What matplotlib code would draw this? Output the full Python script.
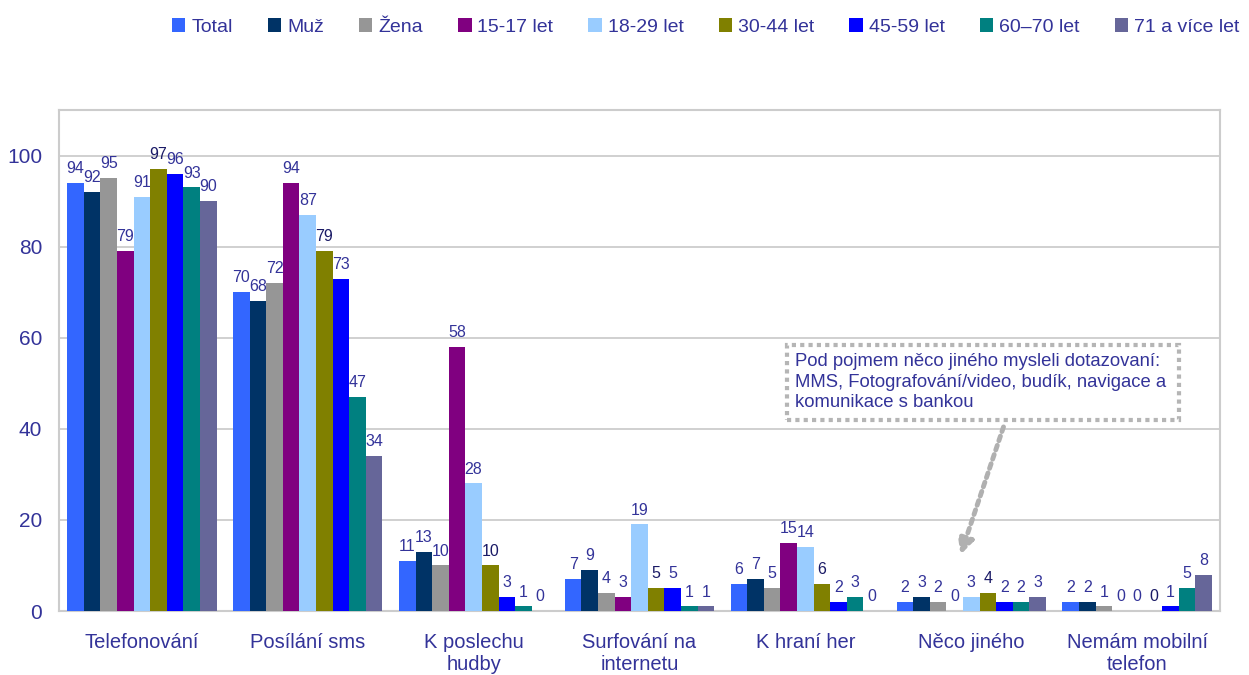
import matplotlib

matplotlib.use("Agg")
import matplotlib.pyplot as plt
import numpy as np

categories = [
    "Telefonování",
    "Posílání sms",
    "K poslechu\nhudby",
    "Surfování na\ninternetu",
    "K hraní her",
    "Něco jiného",
    "Nemám mobilní\ntelefon",
]
series = ["Total", "Muž", "Žena", "15-17 let", "18-29 let", "30-44 let",
          "45-59 let", "60–70 let", "71 a více let"]
values = [
    [94, 70, 11, 7, 6, 2, 2],     # Total
    [92, 68, 13, 9, 7, 3, 2],     # Muž
    [95, 72, 10, 4, 5, 2, 1],     # Žena
    [79, 94, 58, 3, 15, 0, 0],    # 15-17 let
    [91, 87, 28, 19, 14, 3, 0],   # 18-29 let
    [97, 79, 10, 5, 6, 4, 0],     # 30-44 let
    [96, 73, 3, 5, 2, 2, 1],      # 45-59 let
    [93, 47, 1, 1, 3, 2, 5],      # 60–70 let
    [90, 34, 0, 1, 0, 3, 8],      # 71 a více let
]
colors = ["#3366ff", "#003366", "#969696", "#800080", "#99ccff",
          "#808000", "#0000ff", "#008080", "#666699"]
note = ("Pod pojmem něco jiného mysleli dotazovaní:  \n"
        "MMS, Fotografování/video, budík, navigace a\n"
        "komunikace s bankou")

TXT = "#333399"
plt.rcParams["font.family"] = ["Liberation Sans", "DejaVu Sans"]

fig = plt.figure(figsize=(12.49, 6.75), dpi=100)
ax = fig.add_axes([0.0472, 0.0948, 0.9296, 0.7422])

x = np.arange(len(categories))
w = 0.1
for i, (name, vals, c) in enumerate(zip(series, values, colors)):
    pos = x - 0.4 + i * w
    ax.bar(pos, vals, width=w, color=c, label=name, zorder=3)
    bold = name == "30-44 let"
    for px, v in zip(pos, vals):
        ax.annotate(f"{v:.0f}", (px, v), xytext=(0, 5), textcoords="offset points",
                    ha="center", va="bottom", fontsize=11.5,
                    color="#1a1a66" if bold else TXT)

ax.set_xlim(-0.5, len(categories) - 0.5)
ax.set_ylim(0, 110)
ax.set_yticks(range(0, 101, 20))
ax.set_xticks(x)
ax.set_xticklabels(categories, fontsize=14.5, color=TXT, linespacing=1.2, va="top")
ax.tick_params(axis="y", labelsize=15, labelcolor=TXT, length=0, pad=12)
ax.tick_params(axis="x", length=0, pad=16)
ax.grid(True, axis="y", color="#c8c8c8", lw=1.2, zorder=0)
for s in ax.spines.values():
    s.set_color("#cccccc")
    s.set_linewidth(1.5)

ax.text(3.94, 50.2, note, fontsize=13.3, color=TXT, va="center", ha="left",
        linespacing=1.27,
        bbox=dict(boxstyle="square,pad=0.45", fc="white", ec="#b5b5b5",
                  lw=3, ls=(0, (1, 1))), zorder=5)
ax.annotate("", xy=(4.93, 11.8), xytext=(5.2, 41),
            arrowprops=dict(arrowstyle="-|>,head_length=0.9,head_width=0.45",
                            color="#b0b0b0", lw=3.5, ls=(0, (1, 1))), zorder=4)

fig.legend(loc="center", bbox_to_anchor=(0.565, 0.96), ncol=9, frameon=False,
           fontsize=14, handlelength=0.7, handleheight=0.7, handletextpad=0.3,
           columnspacing=1.8, labelcolor=TXT)

fig.savefig("out.png", dpi=100)
